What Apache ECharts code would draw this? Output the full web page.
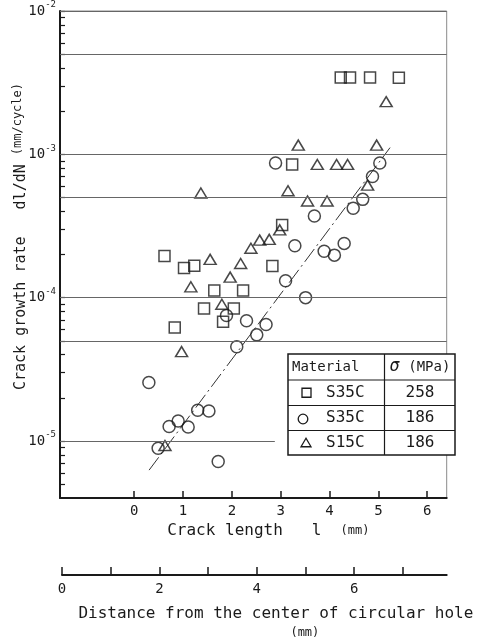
<!DOCTYPE html>
<html>
<head>
<meta charset="utf-8">
<script src="https://cdn.jsdelivr.net/npm/echarts@6/dist/echarts.min.js"></script>
<style>
  html, body { margin: 0; padding: 0; background: #fff; }
  #chart { width: 486px; height: 639px; }
</style>
</head>
<body>
<div id="chart"></div>
<script>
// crack length (mm), dl/dN (mm/cycle)
const s35c258 = [
  [0.62, 1.95e-4], [1.02, 1.61e-4], [1.23, 1.67e-4], [1.64, 1.12e-4], [2.23, 1.12e-4],
  [1.43, 8.4e-5], [2.04, 8.4e-5], [1.82, 6.8e-5], [0.83, 6.2e-5], [2.83, 1.66e-4],
  [3.03, 3.21e-4], [3.235, 8.5e-4], [4.23, 3.44e-3], [4.42, 3.44e-3], [4.83, 3.44e-3],
  [5.42, 3.42e-3]
];
const s35c186 = [
  [0.30, 2.56e-5], [0.49, 8.9e-6], [0.715, 1.26e-5], [0.90, 1.38e-5], [1.105, 1.25e-5],
  [1.30, 1.64e-5], [1.53, 1.62e-5], [1.72, 7.2e-6], [1.89, 7.5e-5], [2.10, 4.54e-5],
  [2.30, 6.9e-5], [2.51, 5.5e-5], [2.70, 6.5e-5], [2.895, 8.7e-4], [3.10, 1.31e-4],
  [3.29, 2.3e-4], [3.51, 1.0e-4], [3.69, 3.71e-4], [3.89, 2.11e-4], [4.10, 1.98e-4],
  [4.30, 2.39e-4], [4.485, 4.2e-4], [4.68, 4.85e-4], [4.88, 7.0e-4], [5.03, 8.7e-4]
];
const s15c186 = [
  [0.63, 9.3e-6], [0.97, 4.2e-5], [1.16, 1.19e-4], [1.365, 5.37e-4], [1.555, 1.85e-4],
  [1.795, 9.0e-5], [1.965, 1.39e-4], [2.18, 1.73e-4], [2.39, 2.21e-4], [2.57, 2.52e-4],
  [2.765, 2.55e-4], [2.98, 2.97e-4], [3.15, 5.57e-4], [3.36, 1.16e-3], [3.55, 4.72e-4],
  [3.75, 8.5e-4], [3.95, 4.72e-4], [4.145, 8.5e-4], [4.37, 8.5e-4], [4.78, 6.1e-4],
  [4.965, 1.16e-3], [5.16, 2.33e-3]
];
const fitLine = [[0.305, 6.26e-6], [5.24, 1.114e-3]];

const xMin = -1.52, xMax = 6.4;
const xTicks = [0, 1, 2, 3, 4, 5, 6];
const yLabels = [1e-5, 1e-4, 1e-3, 1e-2];
const yTicks = [
  5e-6, 6e-6, 7e-6, 8e-6, 9e-6,
  1e-5, 2e-5, 3e-5, 4e-5, 5e-5, 6e-5, 7e-5, 8e-5, 9e-5,
  1e-4, 2e-4, 3e-4, 4e-4, 5e-4, 6e-4, 7e-4, 8e-4, 9e-4,
  1e-3, 2e-3, 3e-3, 4e-3, 5e-3, 6e-3, 7e-3, 8e-3, 9e-3, 1e-2
];
const gridLevels = [1e-2, 5e-3, 1e-3, 5e-4, 1e-4, 5e-5];
const shortGrid = [[xMin, 1e-5], [2.88, 1e-5]];
const distTicks = [0, 1, 2, 3, 4, 5, 6, 7];
const distLabels = [0, 2, 4, 6];

const legendRows = [
  { symbol: "square", material: "S35C", stress: "258" },
  { symbol: "circle", material: "S35C", stress: "186" },
  { symbol: "triangle", material: "S15C", stress: "186" }
];

const FONT = '"DejaVu Sans Mono", monospace';
const INK = "#1a1a1a";

const markerStyle = { color: "rgba(0,0,0,0)", borderColor: INK, borderWidth: 1.5 };

// legend table (drawn as graphic, it sits over the plot corner)
const tbl = { x: 288, y: 354, w: 167, h: 101, col: 384.5, rows: [380, 405.5, 430.5] };
const tableGraphic = [
  { type: "rect", shape: { x: tbl.x, y: tbl.y, width: tbl.w, height: tbl.h },
    style: { fill: "#fff", stroke: INK, lineWidth: 1.5 }, z: 100 },
  { type: "line", shape: { x1: tbl.col, y1: tbl.y, x2: tbl.col, y2: tbl.y + tbl.h },
    style: { stroke: INK, lineWidth: 1.2 }, z: 101 },
  ...tbl.rows.map(r => ({ type: "line", shape: { x1: tbl.x, y1: r, x2: tbl.x + tbl.w, y2: r },
    style: { stroke: INK, lineWidth: 1.2 }, z: 101 })),
  { type: "text", x: 292, y: 367, z: 102,
    style: { text: "Material", font: "14px " + FONT, fill: INK, verticalAlign: "middle", textVerticalAlign: "middle" } },
  { type: "text", x: 420, y: 367, z: 102,
    style: { text: "{s|σ}{m| (MPa)}", fill: INK, align: "center", textAlign: "center", verticalAlign: "middle", textVerticalAlign: "middle",
      rich: { s: { font: "italic 17px " + FONT, fill: INK }, m: { font: "14px " + FONT, fill: INK } } } }
];
legendRows.forEach((row, i) => {
  const top = tbl.rows[i];
  const bottom = i < 2 ? tbl.rows[i + 1] : tbl.y + tbl.h;
  const cy = (top + bottom) / 2;
  let shape;
  if (row.symbol === "square") {
    shape = { type: "rect", shape: { x: 302, y: cy - 4.5, width: 9, height: 9 } };
  } else if (row.symbol === "circle") {
    shape = { type: "circle", shape: { cx: 303, cy: cy + 1, r: 4.8 } };
  } else {
    shape = { type: "polygon", shape: { points: [[306, cy - 4.5], [301, cy + 4], [311, cy + 4]] } };
  }
  shape.style = { fill: "none", stroke: INK, lineWidth: 1.3 };
  shape.z = 102;
  tableGraphic.push(shape);
  tableGraphic.push({ type: "text", x: 326, y: cy, z: 102,
    style: { text: row.material, font: "16px " + FONT, fill: INK, verticalAlign: "middle", textVerticalAlign: "middle" } });
  tableGraphic.push({ type: "text", x: 420, y: cy, z: 102,
    style: { text: row.stress, font: "16px " + FONT, fill: INK, align: "center", textAlign: "center", verticalAlign: "middle", textVerticalAlign: "middle" } });
});

const chart = echarts.init(document.getElementById("chart"));

const option = {
  animation: false,
  backgroundColor: "#fff",
  grid: [
    { left: 60, top: 11, right: 39.3, bottom: 141, outerBoundsMode: "none", containLabel: false,
      show: true, borderColor: "#8a8a8a", borderWidth: 1 },
    { left: 62, right: 39.3, top: 574, height: 1, outerBoundsMode: "none", containLabel: false }
  ],
  xAxis: [
    {
      gridIndex: 0, type: "value", min: xMin, max: xMax,
      axisLine: { onZero: false, lineStyle: { color: INK, width: 2 } },
      axisTick: { inside: true, length: 7, customValues: xTicks, lineStyle: { color: INK, width: 1.5 } },
      axisLabel: { customValues: xTicks, color: INK, fontSize: 14, fontFamily: FONT, margin: 6 },
      splitLine: { show: false },
      name: "{a|Crack length   l  }{b|(mm)}",
      nameLocation: "middle", nameGap: 24,
      nameTextStyle: { padding: [0, 0, 0, 30],
        rich: { a: { fontSize: 16, fontFamily: FONT, color: INK }, b: { fontSize: 12, fontFamily: FONT, color: INK } } }
    },
    {
      gridIndex: 1, type: "value", min: 0, max: 7.9,
      axisLine: { onZero: false, lineStyle: { color: INK, width: 2 } },
      axisTick: { inside: true, length: 8, customValues: distTicks, lineStyle: { color: INK, width: 1.5 } },
      axisLabel: { customValues: distLabels, color: INK, fontSize: 14, fontFamily: FONT, margin: 7 },
      splitLine: { show: false },
      name: "{a|Distance from the center of circular hole}\n{b|(mm)}",
      nameLocation: "middle", nameGap: 29,
      nameTextStyle: { padding: [0, 0, 0, 43], lineHeight: 20,
        rich: { a: { fontSize: 16, fontFamily: FONT, color: INK, lineHeight: 20 },
                b: { fontSize: 12, fontFamily: FONT, color: INK, lineHeight: 18, padding: [0, 0, 0, 58] } } }
    }
  ],
  yAxis: [
    {
      gridIndex: 0, type: "log", logBase: 10, min: 4e-6, max: 1e-2,
      axisLine: { onZero: false, lineStyle: { color: INK, width: 2 } },
      axisTick: { inside: true, length: 5, customValues: yTicks, lineStyle: { color: INK, width: 1.2 } },
      axisLabel: {
        customValues: yLabels, margin: 4, color: INK,
        formatter: v => "{b|10}{s|" + Math.round(Math.log10(v)) + "}",
        rich: {
          b: { fontSize: 14, fontFamily: FONT, color: INK },
          s: { fontSize: 9, fontFamily: FONT, color: INK, padding: [0, 0, 12, 0] }
        }
      },
      splitLine: { show: false },
      name: "{a|Crack growth rate   dl/dN }{b|(mm/cycle)}",
      nameLocation: "middle", nameRotate: 90, nameGap: 30, nameMoveOverlap: false,
      nameTextStyle: { padding: [0, 0, 0, 36],
        rich: { a: { fontSize: 15, fontFamily: FONT, color: INK },
                b: { fontSize: 12, fontFamily: FONT, color: INK, padding: [0, 0, 6, 0] } } }
    },
    { gridIndex: 1, type: "value", show: false }
  ],
  series: [
    {
      type: "line", xAxisIndex: 0, yAxisIndex: 0, data: fitLine, showSymbol: false, silent: true, z: 1,
      lineStyle: { color: "#333", width: 1, type: [16, 4, 2, 4] },
      markLine: {
        silent: true, symbol: "none", label: { show: false },
        lineStyle: { color: "#666", width: 1, type: "solid" },
        data: [
          ...gridLevels.map(v => [{ coord: [xMin, v] }, { coord: [xMax, v] }]),
          [{ coord: shortGrid[0] }, { coord: shortGrid[1] }]
        ]
      }
    },
    { type: "scatter", name: "S35C 258", data: s35c258, symbol: "rect", symbolSize: 11, itemStyle: markerStyle, z: 3 },
    { type: "scatter", name: "S35C 186", data: s35c186, symbol: "circle", symbolSize: 12, itemStyle: markerStyle, z: 3 },
    { type: "scatter", name: "S15C 186", data: s15c186, symbol: "triangle", symbolSize: [12, 10], itemStyle: markerStyle, z: 3 }
  ],
  graphic: tableGraphic
};

chart.setOption(option);
</script>
</body>
</html>
